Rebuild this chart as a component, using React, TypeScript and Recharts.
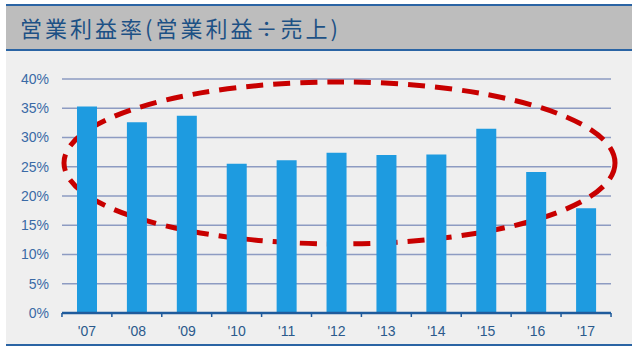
import React from 'react';
import { BarChart, Bar, XAxis, YAxis, CartesianGrid, ReferenceArea } from 'recharts';

const years = ["'07", "'08", "'09", "'10", "'11", "'12", "'13", "'14", "'15", "'16", "'17"];
const margins = [35.3, 32.6, 33.7, 25.5, 26.1, 27.4, 27.0, 27.1, 31.5, 24.1, 17.9];
const yTicks = [0, 5, 10, 15, 20, 25, 30, 35, 40];
const title = '営業利益率(営業利益÷売上)';

const data = years.map((year, i) => ({ year, value: margins[i] }));

const BAND = 50;

const XTick = (props: any) => {
  const { x, y, payload, index } = props;
  const top = y - 13;
  return (
    <g>
      <line x1={x - BAND / 2} x2={x - BAND / 2} y1={top} y2={top + 4} stroke="#1f5b9c" strokeWidth={1.5} />
      {index === years.length - 1 && (
        <line x1={x + BAND / 2} x2={x + BAND / 2} y1={top} y2={top + 4} stroke="#1f5b9c" strokeWidth={1.5} />
      )}
      <text x={x} y={y} dy="0.71em" textAnchor="middle" fill="#2b5a8c" fontSize={14} fontFamily="Liberation Sans, Arial, sans-serif">
        {payload.value}
      </text>
    </g>
  );
};

const Ellipse = (props: any) => {
  const { x, y, width, height } = props;
  return (
    <ellipse
      cx={x + width / 2 + 3}
      cy={y + height / 2}
      rx={width / 2 + 1}
      ry={height / 2}
      fill="none"
      stroke="#c80000"
      strokeWidth={5}
      strokeDasharray="17 10"
    />
  );
};

const App = () => {
  return (
    <div style={{ position: 'absolute', left: 0, top: 0, width: 640, height: 351, background: '#ffffff', overflow: 'hidden' }}>
      <div style={{ position: 'absolute', left: 6, top: 50, width: 626, height: 294, background: '#efefef', borderBottom: '2px solid #2a64a4' }} />
      <div
        style={{
          position: 'absolute',
          left: 6,
          top: 4,
          width: 626,
          height: 43,
          background: '#bdbdbd',
          borderTop: '2px solid #2a64a4',
          borderBottom: '2px solid #2a64a4',
        }}
      >
        <div
          style={{
            position: 'absolute',
            left: 14,
            top: 8,
            fontFamily: '"Noto Sans CJK JP", sans-serif',
            fontSize: 22,
            lineHeight: '26px',
            color: '#1d5185',
            letterSpacing: 3,
            whiteSpace: 'nowrap',
          }}
        >
          {title}
        </div>
      </div>
      <div style={{ position: 'absolute', left: 0, top: 0 }}>
        <BarChart width={640} height={351} data={data} margin={{ top: 79, right: 29, bottom: 8, left: 0 }} barCategoryGap={15}>
          <CartesianGrid vertical={false} stroke="#8d9bc2" strokeWidth={1.5} />
          <YAxis
            width={62}
            domain={[0, 40]}
            ticks={yTicks}
            tickFormatter={(v: number) => `${v}%`}
            axisLine={false}
            tickLine={false}
            tickSize={6}
            tickMargin={7}
            tick={{ fill: '#3a6aa6', fontSize: 14, fontFamily: 'Liberation Sans, Arial, sans-serif' }}
          />
          <XAxis
            dataKey="year"
            height={30}
            axisLine={{ stroke: '#1f5b9c', strokeWidth: 2.5 }}
            tickLine={false}
            tickSize={0}
            tickMargin={13}
            interval={0}
            tick={<XTick />}
          />
          <Bar dataKey="value" fill="#1e9be0" barSize={20} isAnimationActive={false} />
          <ReferenceArea x1="'07" x2="'17" y1={11.8} y2={39.5} ifOverflow="visible" shape={<Ellipse />} />
        </BarChart>
      </div>
    </div>
  );
};

export default App;
